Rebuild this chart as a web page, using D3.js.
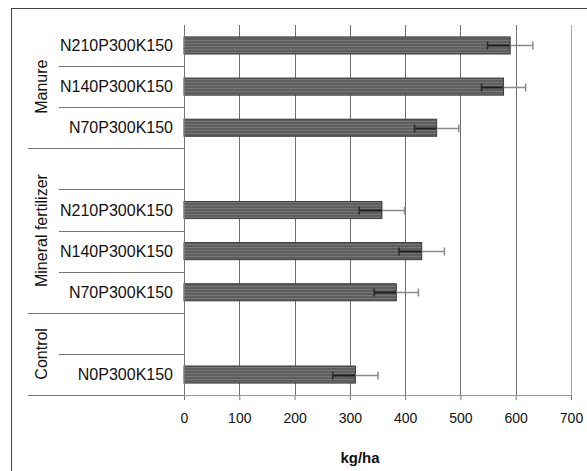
<!DOCTYPE html>
<html>
<head>
<meta charset="utf-8">
<script src="https://cdn.jsdelivr.net/npm/d3@7"></script>
<style>
  body { margin: 0; background: #fff; }
  svg { font-family: "Liberation Sans", Arial, sans-serif; }
</style>
</head>
<body>
<div id="chart"></div>
<script>
// rows, top to bottom
const labels = ["N210P300K150", "N140P300K150", "N70P300K150", "",
                "N210P300K150", "N140P300K150", "N70P300K150", "",
                "N0P300K150"];
const groupOf = ["Manure", "Manure", "Manure",
                 "Mineral fertilizer", "Mineral fertilizer", "Mineral fertilizer", "Mineral fertilizer",
                 "Control", "Control"];
const values = [590, 578, 457, null, 358, 430, 384, null, 310];
const errors = [41, 40, 40, null, 41, 41, 40, null, 41];
const xTicks = [0, 100, 200, 300, 400, 500, 600, 700];
const groups = ["Manure", "Mineral fertilizer", "Control"];

const width = 587, height = 471;
const plot = {left: 184, right: 571, top: 25, bottom: 395};

const svg = d3.select("#chart").append("svg")
    .attr("width", width)
    .attr("height", height);

// striped fill for the bars
const pat = svg.append("defs").append("pattern")
    .attr("id", "stripes")
    .attr("width", 4).attr("height", 3)
    .attr("patternUnits", "userSpaceOnUse");
pat.append("rect").attr("width", 4).attr("height", 3).attr("fill", "#5e5e5e");
pat.append("rect").attr("y", 1).attr("width", 4).attr("height", 1).attr("fill", "#767676");

// outer frame
svg.append("rect")
    .attr("x", 11.5).attr("y", 8.5)
    .attr("width", 700).attr("height", 600)
    .attr("fill", "none")
    .attr("stroke", "#444");

const rows = d3.range(labels.length);

const x = d3.scaleLinear().domain([0, 700]).range([plot.left, plot.right]);
const y = d3.scaleBand().domain(rows).range([plot.top, plot.bottom]).paddingInner(0.585).paddingOuter(0.29);
const yRow = d3.scaleBand().domain(rows).range([plot.top, plot.bottom]);

// vertical gridlines
svg.append("g").selectAll("line")
    .data(xTicks.slice(1))
    .join("line")
    .attr("x1", d => Math.round(x(d)) + 0.5)
    .attr("x2", d => Math.round(x(d)) + 0.5)
    .attr("y1", plot.top)
    .attr("y2", plot.bottom)
    .attr("stroke", d => d === 700 ? "#aaa" : "#707070");

// bars
const data = rows.filter(i => values[i] != null);
svg.append("g").selectAll("rect")
    .data(data)
    .join("rect")
    .attr("x", x(0))
    .attr("y", i => y(i))
    .attr("width", i => x(values[i]) - x(0))
    .attr("height", y.bandwidth())
    .attr("fill", "url(#stripes)")
    .attr("stroke", "#3a3a3a")
    .attr("stroke-width", 1);

// error bars
const err = svg.append("g");
data.forEach(i => {
  const cy = Math.round(y(i) + y.bandwidth() / 2) + 0.5;
  const lo = x(values[i] - errors[i]), mid = x(values[i]), hi = x(values[i] + errors[i]);
  err.append("line").attr("x1", lo).attr("x2", mid).attr("y1", cy).attr("y2", cy)
      .attr("stroke", "#1e1e1e").attr("stroke-width", 2);
  err.append("line").attr("x1", mid).attr("x2", hi).attr("y1", cy).attr("y2", cy)
      .attr("stroke", "#8a8a8a").attr("stroke-width", 1.5);
  err.append("line").attr("x1", lo).attr("x2", lo).attr("y1", cy - 4).attr("y2", cy + 4)
      .attr("stroke", "#2a2a2a").attr("stroke-width", 1.5);
  err.append("line").attr("x1", hi).attr("x2", hi).attr("y1", cy - 4).attr("y2", cy + 4)
      .attr("stroke", "#8a8a8a").attr("stroke-width", 1.5);
});

// bottom axis
const xAxis = svg.append("g")
    .attr("transform", `translate(0,${plot.bottom})`)
    .call(d3.axisBottom(x).tickValues(xTicks).tickSize(5).tickPadding(13).tickSizeOuter(0));
xAxis.select(".domain").remove();
xAxis.selectAll(".tick line").attr("stroke", "#777");
xAxis.selectAll(".tick text")
    .attr("font-size", 14)
    .attr("fill", "#111")
    .attr("font-family", "Liberation Sans, Arial, sans-serif");

svg.append("line")
    .attr("x1", 28).attr("x2", plot.right)
    .attr("y1", plot.bottom + 0.5).attr("y2", plot.bottom + 0.5)
    .attr("stroke", "#999");

// left axis line
svg.append("line")
    .attr("x1", plot.left + 0.5).attr("x2", plot.left + 0.5)
    .attr("y1", plot.top).attr("y2", plot.bottom)
    .attr("stroke", "#777");

// category separators
svg.append("g").selectAll("line")
    .data(rows)
    .join("line")
    .attr("x1", i => (i === rows.length - 1 || groupOf[i] !== groupOf[i + 1]) ? 28 : 59)
    .attr("x2", plot.left)
    .attr("y1", i => Math.round(yRow(i) + yRow.bandwidth()) + 0.5)
    .attr("y2", i => Math.round(yRow(i) + yRow.bandwidth()) + 0.5)
    .attr("stroke", "#777");

// category labels
svg.append("g").selectAll("text")
    .data(rows)
    .join("text")
    .attr("x", 173)
    .attr("y", i => yRow(i) + yRow.bandwidth() / 2)
    .attr("dy", "0.35em")
    .attr("text-anchor", "end")
    .attr("font-size", 16)
    .attr("fill", "#111")
    .text(i => labels[i]);

// group labels
svg.append("g").selectAll("text")
    .data(groups)
    .join("text")
    .attr("transform", g => {
      const idx = rows.filter(i => groupOf[i] === g);
      const cy = (yRow(idx[0]) + yRow(idx[idx.length - 1]) + yRow.bandwidth()) / 2;
      return `translate(41,${cy}) rotate(-90)`;
    })
    .attr("dy", "0.35em")
    .attr("text-anchor", "middle")
    .attr("font-size", 16)
    .attr("fill", "#111")
    .text(g => g);

// axis title
svg.append("text")
    .attr("x", 360)
    .attr("y", 458)
    .attr("dy", "0.35em")
    .attr("text-anchor", "middle")
    .attr("font-size", 15)
    .attr("font-weight", "bold")
    .attr("fill", "#111")
    .text("kg/ha");
</script>
</body>
</html>
